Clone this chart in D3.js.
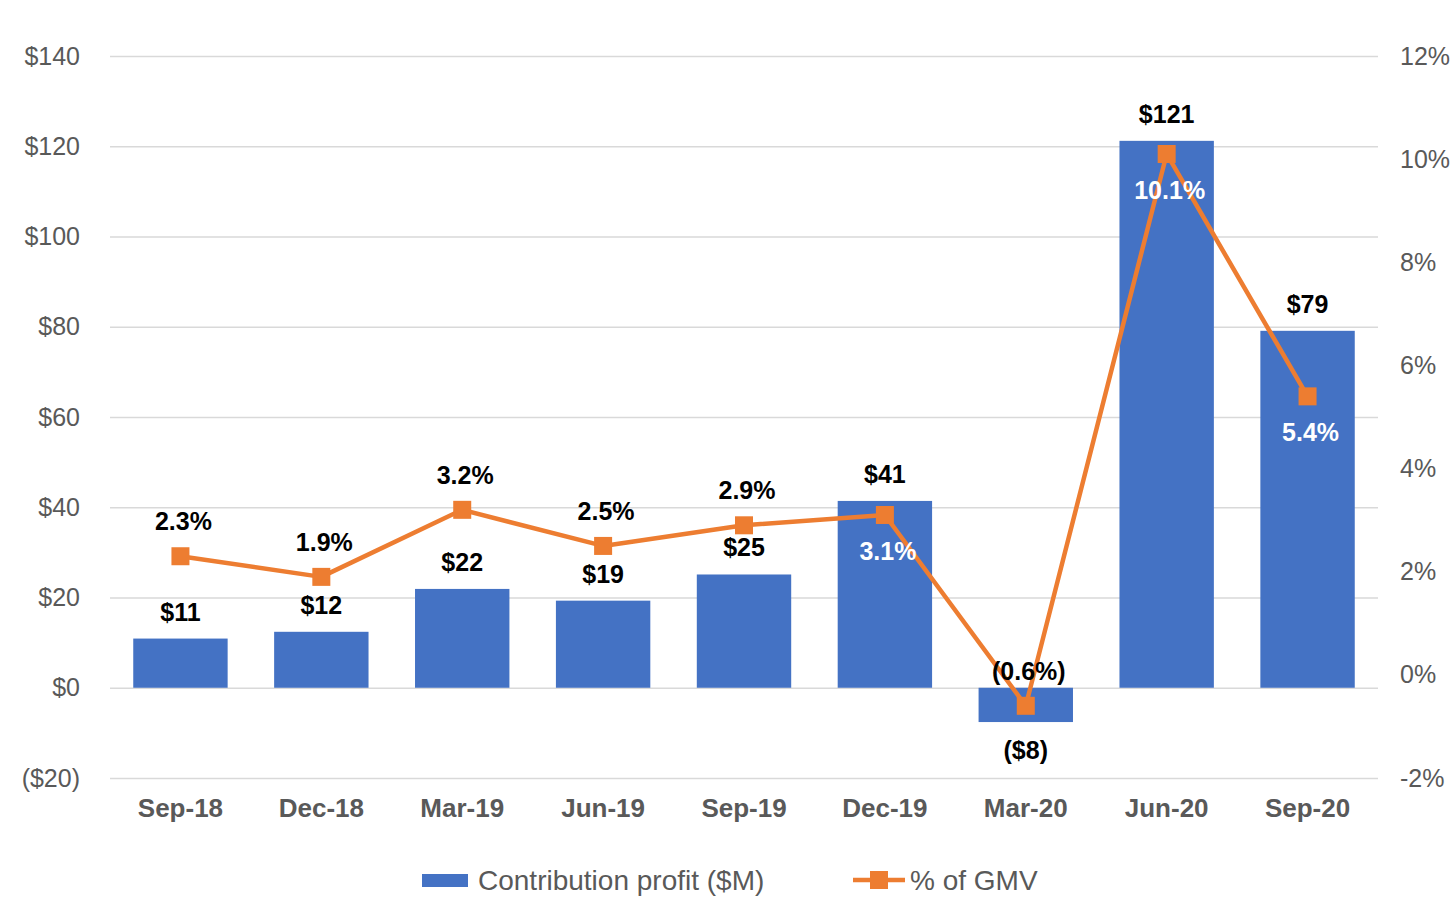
<!DOCTYPE html>
<html>
<head>
<meta charset="utf-8">
<script src="https://cdn.jsdelivr.net/npm/d3@7"></script>
<style>
  body { margin: 0; background: #fff; }
  text { font-family: "Liberation Sans", Arial, sans-serif; }
</style>
</head>
<body>
<script>
// data
var quarters = ["Sep-18", "Dec-18", "Mar-19", "Jun-19", "Sep-19", "Dec-19", "Mar-20", "Jun-20", "Sep-20"];
var profit = [10.9, 12.4, 21.9, 19.3, 25.1, 41.4, -7.6, 121.2, 79.1];
var pctGmv = [2.3, 1.9, 3.2, 2.5, 2.9, 3.1, -0.6, 10.1, 5.4];
// where the % label sits: above the marker, or inside the bar in white
var pctInside = [false, false, false, false, false, true, false, true, true];
var leftTicks = [-20, 0, 20, 40, 60, 80, 100, 120, 140];
var rightTicks = [-2, 0, 2, 4, 6, 8, 10, 12];

var W = 1456, H = 922;
var margin = {top: 56, right: 78, bottom: 144, left: 110},
    width = W - margin.left - margin.right,
    height = H - margin.top - margin.bottom;

var svg = d3.select("body").append("svg")
    .attr("width", W)
    .attr("height", H)
  .append("g")
    .attr("transform", "translate(" + margin.left + "," + margin.top + ")");

var x = d3.scaleBand().domain(quarters).range([0, width]).paddingInner(0.33).paddingOuter(0.165);
var y = d3.scaleLinear().domain([-20, 140]).range([height, 0]);
var y2 = d3.scaleLinear().domain([-2, 12]).range([height, 0]);

var money = function(v) { return v < 0 ? "($" + Math.abs(v) + ")" : "$" + v; };
var pctFmt = function(v) { return v < 0 ? "(" + Math.abs(v).toFixed(1) + "%)" : v.toFixed(1) + "%"; };

// gridlines
svg.append("g")
    .call(d3.axisLeft(y).tickValues(leftTicks).tickSize(-width).tickFormat(""))
    .call(function(g) { g.select(".domain").remove(); })
    .selectAll("line").attr("stroke", "#d9d9d9").attr("stroke-width", 1.3);

// left axis labels
var la = svg.append("g")
    .attr("transform", "translate(-27,0)")
    .call(d3.axisLeft(y).tickValues(leftTicks).tickSize(0).tickFormat(money));
la.select(".domain").remove();
la.selectAll("text").attr("fill", "#595959").style("font-size", "25px");

// right axis labels
var ra = svg.append("g")
    .attr("transform", "translate(" + (width + 19) + ",0)")
    .call(d3.axisRight(y2).tickValues(rightTicks).tickSize(0).tickFormat(function(d) { return d + "%"; }));
ra.select(".domain").remove();
ra.selectAll("text").attr("fill", "#595959").style("font-size", "25px");

// category labels
var xa = svg.append("g")
    .attr("transform", "translate(0," + height + ")")
    .call(d3.axisBottom(x).tickSize(0).tickPadding(21));
xa.select(".domain").remove();
xa.selectAll("text").attr("fill", "#595959").style("font-size", "26px").style("font-weight", "bold");

// bars
svg.selectAll(".bar")
    .data(profit)
  .enter().append("rect")
    .attr("class", "bar")
    .attr("x", function(d, i) { return x(quarters[i]); })
    .attr("width", x.bandwidth())
    .attr("y", function(d) { return y(Math.max(0, d)); })
    .attr("height", function(d) { return Math.abs(y(d) - y(0)); })
    .attr("fill", "#4472c4");

// bar labels
svg.selectAll(".blabel")
    .data(profit)
  .enter().append("text")
    .attr("x", function(d, i) { return x(quarters[i]) + x.bandwidth() / 2; })
    .attr("y", function(d) { return d < 0 ? y(d) + 37 : y(d) - 18; })
    .attr("text-anchor", "middle")
    .style("font-size", "25px")
    .style("font-weight", "bold")
    .attr("fill", "#000")
    .text(function(d) { return money(Math.round(d)); });

// line
var cx = function(i) { return x(quarters[i]) + x.bandwidth() / 2; };
var line = d3.line()
    .x(function(d, i) { return cx(i); })
    .y(function(d) { return y2(d); });

svg.append("path")
    .datum(pctGmv)
    .attr("fill", "none")
    .attr("stroke", "#ed7d31")
    .attr("stroke-width", 4.5)
    .attr("stroke-linejoin", "round")
    .attr("d", line);

svg.selectAll(".marker")
    .data(pctGmv)
  .enter().append("rect")
    .attr("x", function(d, i) { return cx(i) - 9; })
    .attr("y", function(d) { return y2(d) - 9; })
    .attr("width", 18)
    .attr("height", 18)
    .attr("fill", "#ed7d31");

// % labels
svg.selectAll(".plabel")
    .data(pctGmv)
  .enter().append("text")
    .attr("x", function(d, i) { return cx(i) + 3; })
    .attr("y", function(d, i) { return pctInside[i] ? y2(d) + 45 : y2(d) - 26; })
    .attr("text-anchor", "middle")
    .style("font-size", "25px")
    .style("font-weight", "bold")
    .attr("fill", function(d, i) { return pctInside[i] ? "#fff" : "#000"; })
    .text(pctFmt);

// legend
var lg = d3.select("svg").append("g");
lg.append("rect").attr("x", 422).attr("y", 874).attr("width", 46).attr("height", 13).attr("fill", "#4472c4");
lg.append("text").attr("x", 478).attr("y", 890).attr("fill", "#595959")
    .style("font-size", "28px").text("Contribution profit ($M)");
lg.append("line").attr("x1", 853).attr("x2", 905).attr("y1", 880).attr("y2", 880)
    .attr("stroke", "#ed7d31").attr("stroke-width", 4.5);
lg.append("rect").attr("x", 870).attr("y", 871).attr("width", 18).attr("height", 18).attr("fill", "#ed7d31");
lg.append("text").attr("x", 910).attr("y", 890).attr("fill", "#595959")
    .style("font-size", "28px").text("% of GMV");
</script>
</body>
</html>
